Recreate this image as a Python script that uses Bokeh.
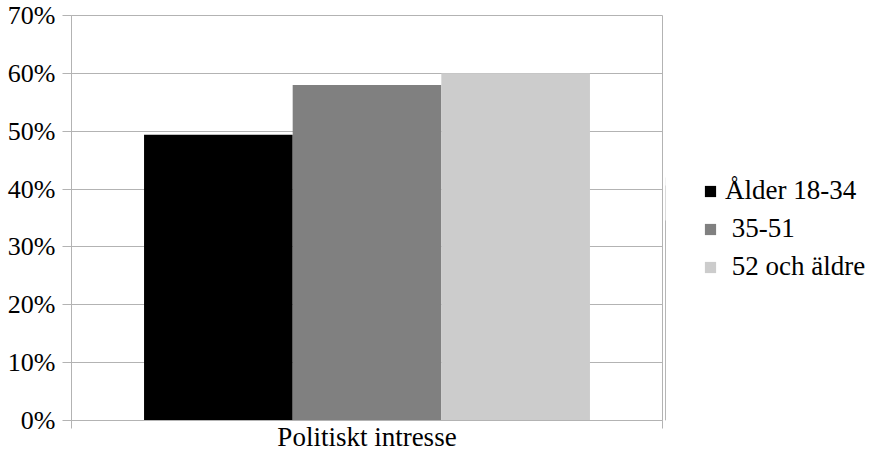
from bokeh.plotting import figure
from bokeh.layouts import row
from bokeh.models import (ColumnDataSource, Range1d, FixedTicker, NumeralTickFormatter,
                          Legend, LegendItem)
from bokeh.embed import file_html
from bokeh.resources import INLINE

category = "Politiskt intresse"
groups = ["Ålder 18-34", " 35-51", " 52 och äldre"]
values = [0.494, 0.580, 0.600]
colors = ["#000000", "#808080", "#cccccc"]
y_ticks = [0.0, 0.1, 0.2, 0.3, 0.4, 0.5, 0.6, 0.7]

FONT = "'Liberation Serif', 'Times New Roman', serif"
FS_TICK = "26px"
FS = "27px"
GRID = "#b3b3b3"

bar_w = 0.2515
centers = [0.5 + (i - (len(groups) - 1) / 2) * bar_w for i in range(len(groups))]

p = figure(width=665, height=454, output_backend="svg", toolbar_location=None,
           x_range=Range1d(0, 1), y_range=Range1d(0, 0.7),
           min_border_left=71, min_border_top=15, min_border_right=3, min_border_bottom=0)
p.background_fill_color = "white"
p.border_fill_color = "white"
p.outline_line_color = GRID

sources = []
for v, x in zip(values, centers):
    sources.append(ColumnDataSource(dict(x=[x], top=[v])))

for src, c in zip(sources, colors):
    p.vbar(x="x", top="top", bottom=0, width=bar_w, source=src,
           fill_color=c, line_color=None)

# y axis
ya = p.yaxis[0]
ya.ticker = FixedTicker(ticks=y_ticks)
ya.formatter = NumeralTickFormatter(format="0%")
ya.major_label_text_font = FONT
ya.major_label_text_font_size = FS_TICK
ya.major_label_text_color = "black"
ya.axis_line_color = GRID
ya.major_tick_line_color = GRID
ya.major_tick_out = 9
ya.major_tick_in = 0
ya.minor_tick_line_color = None
ya.major_label_standoff = 7

# x axis
xa = p.xaxis[0]
xa.ticker = FixedTicker(ticks=[0, 1])
xa.major_label_overrides = {0: "", 1: ""}
xa.major_label_text_font_size = "0px"
xa.major_label_standoff = 0
xa.axis_line_color = GRID
xa.major_tick_line_color = GRID
xa.major_tick_out = 8
xa.major_tick_in = 0
xa.minor_tick_line_color = None
xa.axis_label = category
xa.axis_label_text_font = FONT
xa.axis_label_text_font_size = FS
xa.axis_label_text_font_style = "normal"
xa.axis_label_text_color = "black"
xa.axis_label_standoff = -7

p.xgrid.grid_line_color = None
p.ygrid.grid_line_color = GRID
p.ygrid.ticker = FixedTicker(ticks=y_ticks)

# legend panel (its bars lie outside its visible range; only the legend shows)
lg = figure(width=201, height=454, output_backend="svg", toolbar_location=None,
            x_range=Range1d(10, 11), y_range=Range1d(0, 1),
            min_border_left=0, min_border_top=0, min_border_right=0, min_border_bottom=0)
lg.axis.visible = False
lg.grid.grid_line_color = None
lg.outline_line_color = None
lg.background_fill_color = "white"
lg.border_fill_color = "white"

items = []
for g, c, src in zip(groups, colors, sources):
    r = lg.vbar(x="x", top="top", bottom=0, width=bar_w, source=src,
                fill_color=c, line_color=None)
    items.append(LegendItem(label=g, renderers=[r]))

legend = Legend(items=items, location=(38, 138), orientation="vertical")
legend.border_line_color = None
legend.background_fill_alpha = 0
legend.label_text_font = FONT
legend.label_text_font_size = FS
legend.label_text_color = "black"
legend.glyph_width = 14
legend.glyph_height = 14
legend.label_standoff = 8
legend.label_height = 31
legend.spacing = 7
legend.padding = 0
legend.margin = 0
lg.add_layout(legend, "center")

layout = row(p, lg, spacing=0)
open("out.html", "w").write(file_html(layout, INLINE))
